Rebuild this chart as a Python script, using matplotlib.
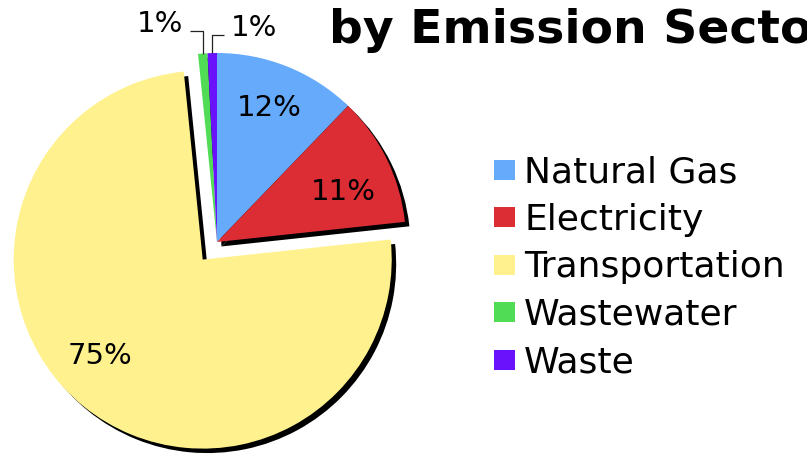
import matplotlib.pyplot as plt
import numpy as np
from matplotlib.patches import Rectangle
from matplotlib.transforms import Affine2D

# data (labels are rounded to whole percent)
sectors = ['Natural Gas', 'Electricity', 'Transportation', 'Wastewater', 'Waste']
shares = [12.2, 11.1, 75.1, 0.8, 0.8]
colors = ['#66aafc', '#dc2d35', '#fff28e', '#50dc55', '#6a12fc']
explode = [0, 0, 0.12, 0, 0]
title = 'by Emission Sector'

W, H = 807, 454
R = 189          # pie radius in pixels
CX, CY = 217, 242  # pie centre, pixels from top-left

fig = plt.figure(figsize=(W / 100, H / 100), dpi=100)
ax = fig.add_axes([0, 0, 1, 1])

wedges, texts, autotexts = ax.pie(
    shares, colors=colors, explode=explode, startangle=90, counterclock=False,
    autopct='%1.0f%%', pctdistance=0.75,
    wedgeprops={'linewidth': 0},
    shadow={'ox': 0.017, 'oy': -0.017, 'shade': 1.0, 'alpha': 1.0},
    textprops={'fontsize': 21, 'color': 'black'})

ax.set_xlim(-CX / R, (W - CX) / R)
ax.set_ylim(-(H - CY) / R, CY / R)
ax.set_aspect('equal', adjustable='datalim')

# big slice labels: (angle in deg, radius) about each wedge's own centre
label_at = {0: (68.5, 0.76), 1: (21.7, 0.72), 2: (-136.6, 0.745)}
for i, (ang, r) in label_at.items():
    x0, y0 = wedges[i].center
    a = np.radians(ang)
    autotexts[i].set_position((x0 + r * np.cos(a), y0 + r * np.sin(a)))

# tiny slices get labels up top with elbow leader lines
small = {3: (1.116, -0.143, 'right'), 4: (1.095, 0.037, 'left')}
for i, (ey, ex, ha) in small.items():
    w = wedges[i]
    mid = np.radians((w.theta1 + w.theta2) / 2)
    x0, y0 = w.center
    sx, sy = x0 + np.cos(mid), y0 + np.sin(mid)
    ax.plot([sx, sx, ex], [sy, ey, ey], color='#222222', lw=0.9, solid_capstyle='butt')
    gap = 0.035 if ha == 'left' else -0.035
    t = autotexts[i]
    t.set_ha(ha)
    t.set_position((ex + gap, ey + 0.035))

# pixel transform (origin top-left) for the text outside the pie
px = Affine2D().scale(1 / W, -1 / H).translate(0, 1) + fig.transFigure

fig.text(329, 43, title, transform=px, fontsize=34, fontweight='bold',
         va='baseline', ha='left')

for i, (name, col) in enumerate(zip(sectors, colors)):
    top = 160 + 47.4 * i
    fig.patches.append(Rectangle((494, top), 21, 20, transform=px,
                                 facecolor=col, edgecolor='none'))
    fig.text(524, top + 22.5, name, transform=px, fontsize=26,
             va='baseline', ha='left')

fig.savefig('out.png', dpi=100)
